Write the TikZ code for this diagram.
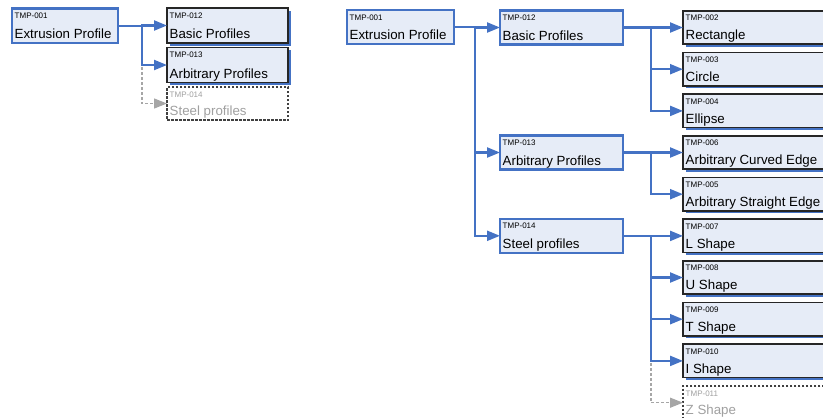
\documentclass[tikz,border=0pt]{standalone}
\usepackage{fontspec}
\setmainfont{Liberation Sans}
\usetikzlibrary{arrows.meta,shadows}

\definecolor{linkblue}{HTML}{4472C4}
\definecolor{boxfill}{HTML}{E6ECF7}
\definecolor{ghostline}{HTML}{A6A6A6}
\definecolor{ghosttext}{HTML}{A0A0A0}

\tikzset{
  basebox/.style={rectangle, inner sep=0pt, outer sep=0pt},
  parentbox/.style={basebox, draw=linkblue, line width=2.2pt, fill=boxfill},
  leafbox/.style={basebox, draw=black!85, line width=1.5pt, fill=boxfill,
    drop shadow={shadow xshift=2.5pt, shadow yshift=-2.5pt, fill=linkblue, opacity=1}},
  ghostbox/.style={basebox, draw=black!75, line width=1.1pt, dash pattern=on 2.5pt off 1.5pt, fill=white},
  idtxt/.style={inner sep=0pt, font=\fontsize{8}{9}\selectfont},
  maintxt/.style={inner sep=0pt, font=\fontsize{13.3}{15}\selectfont},
  link/.style={draw=linkblue, line width=2.2pt, -{Triangle[length=13pt,width=10pt]}},
  ghostlink/.style={draw=ghostline, line width=1.4pt, dash pattern=on 3pt off 2pt,
    -{Triangle[length=13pt,width=10pt,fill=ghostline]}},
}

% #1 name, #2 box style, #3 x, #4 top y, #5 width, #6 height, #7 id, #8 title, #9 text colour
\newcommand\tmpbox[9]{%
  \node[#2, minimum width=#5pt, minimum height=#6pt, anchor=north west] (#1) at (#3,#4) {};
  \node[idtxt, text=#9, anchor=base west] (#1-id) at ([xshift=2.5pt,yshift=-10pt]#1.north west) {#7};
  \node[maintxt, text=#9, anchor=base west] (#1-tx) at ([xshift=2.5pt,yshift=4.5pt]#1.south west) {#8};
}

\begin{document}
\begin{tikzpicture}[x=1pt, y=-1pt]
\useasboundingbox (0,0) rectangle (823,418);

% ---- small tree ----
\tmpbox{a001}{parentbox}{12}{8.5}{106}{34.5}{TMP-001}{Extrusion Profile}{black}
\tmpbox{a012}{leafbox}{167}{8}{121}{35}{TMP-012}{Basic Profiles}{black}
\tmpbox{a013}{leafbox}{167}{47.5}{121}{35}{TMP-013}{Arbitrary Profiles}{black}
\tmpbox{a014}{ghostbox}{167}{87}{121}{33}{TMP-014}{Steel profiles}{ghosttext}
\coordinate (atr) at (142,0);

\draw[ghostlink] (a001.east) -- (a001.east -| atr) |- (a014.west);
\draw[link] (a001.east) -- (a001.east -| atr) |- (a012.west);
\draw[link] (a001.east) -- (a001.east -| atr) |- (a013.west);

% ---- full tree ----
\tmpbox{b001}{parentbox}{347}{10}{107}{34}{TMP-001}{Extrusion Profile}{black}
\tmpbox{b012}{parentbox}{500}{10.5}{123}{34}{TMP-012}{Basic Profiles}{black}
\tmpbox{b013}{parentbox}{500}{135.5}{123}{34}{TMP-013}{Arbitrary Profiles}{black}
\tmpbox{b014}{parentbox}{500}{218.8}{123}{34}{TMP-014}{Steel profiles}{black}

\tmpbox{c002}{leafbox}{683}{10.8}{150}{33.4}{TMP-002}{Rectangle}{black}
\tmpbox{c003}{leafbox}{683}{52.5}{150}{33.4}{TMP-003}{Circle}{black}
\tmpbox{c004}{leafbox}{683}{94.2}{150}{33.4}{TMP-004}{Ellipse}{black}
\tmpbox{c006}{leafbox}{683}{135.8}{150}{33.4}{TMP-006}{Arbitrary Curved Edge}{black}
\tmpbox{c005}{leafbox}{683}{177.5}{150}{33.4}{TMP-005}{Arbitrary Straight Edge}{black}
\tmpbox{c007}{leafbox}{683}{219.2}{150}{33.4}{TMP-007}{L Shape}{black}
\tmpbox{c008}{leafbox}{683}{260.8}{150}{33.4}{TMP-008}{U Shape}{black}
\tmpbox{c009}{leafbox}{683}{302.5}{150}{33.4}{TMP-009}{T Shape}{black}
\tmpbox{c010}{leafbox}{683}{344.2}{150}{33.4}{TMP-010}{I Shape}{black}
\tmpbox{c011}{ghostbox}{683}{386}{150}{33.4}{TMP-011}{Z Shape}{ghosttext}

\coordinate (btr) at (475,0);
\coordinate (ctr) at (651,0);

\draw[link] (b001.east) -- (b001.east -| btr) |- (b012.west);
\draw[link] (b001.east) -- (b001.east -| btr) |- (b013.west);
\draw[link] (b001.east) -- (b001.east -| btr) |- (b014.west);

\draw[link] (b012.east) -- (b012.east -| ctr) |- (c002.west);
\draw[link] (b012.east) -- (b012.east -| ctr) |- (c003.west);
\draw[link] (b012.east) -- (b012.east -| ctr) |- (c004.west);

\draw[link] (b013.east) -- (b013.east -| ctr) |- (c006.west);
\draw[link] (b013.east) -- (b013.east -| ctr) |- (c005.west);

\draw[ghostlink] (b014.east) -- (b014.east -| ctr) |- (c011.west);
\draw[link] (b014.east) -- (b014.east -| ctr) |- (c007.west);
\draw[link] (b014.east) -- (b014.east -| ctr) |- (c008.west);
\draw[link] (b014.east) -- (b014.east -| ctr) |- (c009.west);
\draw[link] (b014.east) -- (b014.east -| ctr) |- (c010.west);
\end{tikzpicture}
\end{document}
